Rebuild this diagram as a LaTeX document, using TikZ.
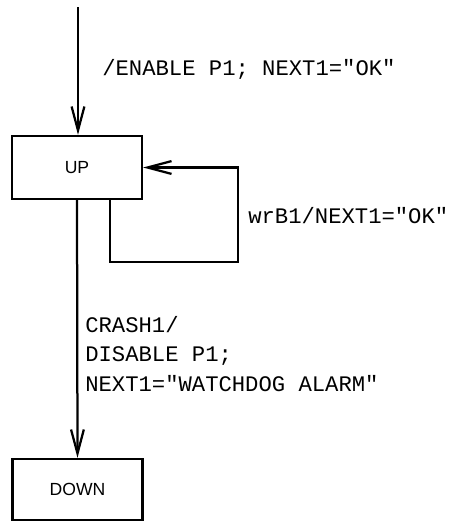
\documentclass[tikz,border=0pt]{standalone}
\usepackage{fontspec}
\setmainfont{Liberation Sans}
\setsansfont{Liberation Sans}
\setmonofont{Liberation Mono}
\usetikzlibrary{arrows.meta,positioning,calc}

\begin{document}
\begin{tikzpicture}[
    x=0.025cm,y=-0.025cm,
    etat/.style  = {draw, line width=1.6pt, minimum width=3.25cm,
                    minimum height=1.575cm, inner sep=0pt,
                    font=\fontsize{12.5}{14}\selectfont\sffamily},
    trans/.style = {-{Straight Barb[length=6mm,width=3.2mm,line width=1.6pt]},
                    line width=1.6pt},
    et/.style    = {font=\fontsize{15.8}{21}\selectfont\ttfamily,
                    align=left, inner sep=0pt},
  ]

  \useasboundingbox (0,0) rectangle (451,522);

  % Etats
  \node[etat] (up)   at (77,167.5) {UP};
  \node[etat, minimum height=1.525cm] (down) at (77.5,489.5) {DOWN};

  % Points de passage
  \coordinate (init) at (78,7);
  \coordinate (b1)   at (110,262);
  \coordinate (b2)   at (238,262);
  \coordinate (b3)   at (238,167.5);

  % Transitions
  \draw[trans] (init) -- (init |- up.north);
  \draw[trans] (up.south -| b1) -- (b1) -- (b2) -- (b3) -- (up.east);
  \draw[trans] (up.south) -- (down.north);

  % Etiquettes
  \node[et, anchor=west] (lenable) at (102,69) {/ENABLE P1; NEXT1="OK"};
  \node[et, anchor=west] (lwr)     at (248,216) {wrB1/NEXT1="OK"};
  \node[et, anchor=north west] (lcrash) at (85,316)
       {CRASH1/\\DISABLE P1;\\NEXT1="WATCHDOG ALARM"};

\end{tikzpicture}
\end{document}
